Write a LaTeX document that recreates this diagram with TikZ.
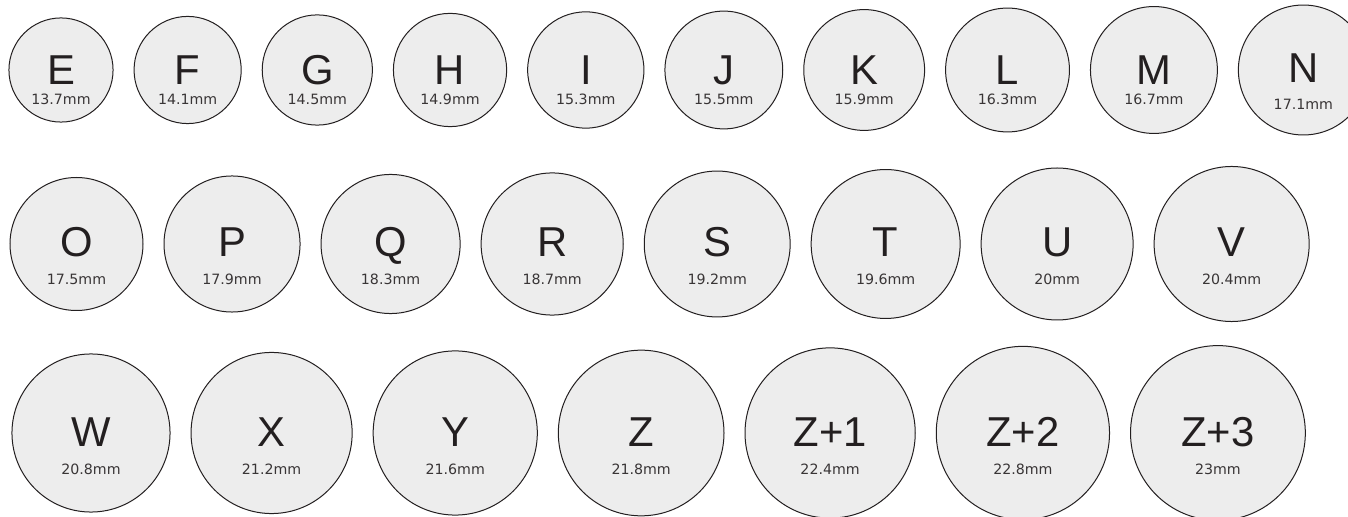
\documentclass[tikz,border=0pt]{standalone}
\usepackage{fontspec}
\setmainfont{Liberation Sans}
\newfontfamily\mmfont{DejaVu Sans}
\usetikzlibrary{positioning}
\definecolor{ringfill}{HTML}{EDEDED}
\definecolor{ringline}{HTML}{231F20}
\begin{document}
\begin{tikzpicture}[x=0.5pt,y=-0.5pt,node distance=10.5pt,
  ring/.style={circle,draw=ringline,fill=ringfill,line width=0.5pt,
    inner sep=0pt,outer sep=0pt,minimum size=#1*3.8pt},
  letter/.style={anchor=base,text=ringline,font=\fontsize{20.9pt}{24pt}\selectfont},
  mmtext/.style={anchor=base,text=ringline!90,font=\mmfont\fontsize{7.1pt}{9pt}\selectfont}]
\useasboundingbox (0,0) rectangle (1348,517);
\clip (0,0) rectangle (1348,517);
% first row
\node[ring=13.7] (E) at (61,70) {};
\node[letter] at ([yshift=-7.5pt]E.center) {E};
\node[mmtext] at ([yshift=-17.5pt]E.center) {13.7mm};
\foreach \n/\d [remember=\n as \p (initially E)] in
    {F/14.1,G/14.5,H/14.9,I/15.3,J/15.5,K/15.9,L/16.3,M/16.7} {
  \node[ring=\d,right=of \p] (\n) {};
  \node[letter] at ([yshift=-7.5pt]\n.center) {\n};
  \node[mmtext] at ([yshift=-17.5pt]\n.center) {\d mm};
}
\node[ring=17.1,right=of M] (N) {};
\node[letter] at ([yshift=-6.5pt]N.center) {N};
\node[mmtext] at ([yshift=-20pt]N.center) {17.1mm};
% second row
\node[ring=17.5] (O) at (76.5,244) {};
\node[letter] at ([yshift=-6.5pt]O.center) {O};
\node[mmtext] at ([yshift=-20.5pt]O.center) {17.5mm};
\foreach \n/\d [remember=\n as \p (initially O)] in
    {P/17.9,Q/18.3,R/18.7,S/19.2,T/19.6,U/20,V/20.4} {
  \node[ring=\d,right=of \p] (\n) {};
  \node[letter] at ([yshift=-6.5pt]\n.center) {\n};
  \node[mmtext] at ([yshift=-20.5pt]\n.center) {\d mm};
}
% third row
\node[ring=20.8] (W) at (91,433) {};
\node[letter] at ([yshift=-7pt]W.center) {W};
\node[mmtext] at ([yshift=-20.5pt]W.center) {20.8mm};
\foreach \n/\t/\d [remember=\n as \p (initially W)] in
    {X/X/21.2,Y/Y/21.6,Z/Z/21.8,Z1/Z+1/22.4,Z2/Z+2/22.8,Z3/Z+3/23} {
  \node[ring=\d,right=of \p] (\n) {};
  \node[letter] at ([yshift=-7pt]\n.center) {\t};
  \node[mmtext] at ([yshift=-20.5pt]\n.center) {\d mm};
}
\end{tikzpicture}
\end{document}
